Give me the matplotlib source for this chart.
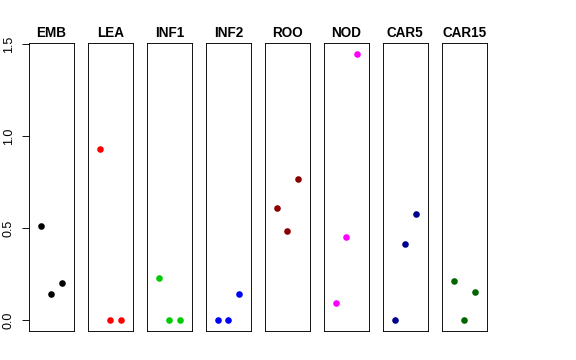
import numpy as np
import matplotlib
matplotlib.use("Agg")
import matplotlib.pyplot as plt

# tissue panels, three replicates each
tissues = ["EMB", "LEA", "INF1", "INF2", "ROO", "NOD", "CAR5", "CAR15"]
colors = ["black", "red", "#00CD00", "blue", "#8B0000", "magenta", "#00008B", "#006400"]
replicates = [1, 2, 3]
values = [
    [0.513, 0.145, 0.201],
    [0.931, 0.0, 0.0],
    [0.228, 0.0, 0.0],
    [0.0, 0.0, 0.145],
    [0.612, 0.484, 0.766],
    [0.094, 0.451, 1.447],
    [0.0, 0.413, 0.576],
    [0.212, 0.0, 0.154],
]

plt.rcParams['font.family'] = ['Liberation Sans', 'DejaVu Sans']

fig = plt.figure(figsize=(8, 5), dpi=72)
W, H = 576.0, 360.0
left0, pw, step = 29.0, 44.7, 59.0
top, bottom = 43.3, 331.0

for i, (name, col, vals) in enumerate(zip(tissues, colors, values)):
    x0 = left0 + i * step
    ax = fig.add_axes([x0 / W, (H - bottom) / H, pw / W, (bottom - top) / H])
    ax.plot(replicates, vals, 'o', color=col, markersize=6.6, markeredgewidth=0)
    ax.set_xlim(-0.16, 4.16)
    ax.set_ylim(-0.058, 1.505)
    ax.set_xticks([])
    ax.set_title(name, fontsize=13.5, fontweight='bold', pad=6)
    for s in ax.spines.values():
        s.set_linewidth(0.9)
        s.set_color('black')
    if i == 0:
        ax.set_yticks([0.0, 0.5, 1.0, 1.5])
        ax.set_yticklabels(["0.0", "0.5", "1.0", "1.5"], rotation=90, va='center', fontsize=12.5)
        ax.tick_params(axis='y', length=7, width=0.9, pad=7)
    else:
        ax.set_yticks([])

fig.savefig("out.png", dpi=72)
